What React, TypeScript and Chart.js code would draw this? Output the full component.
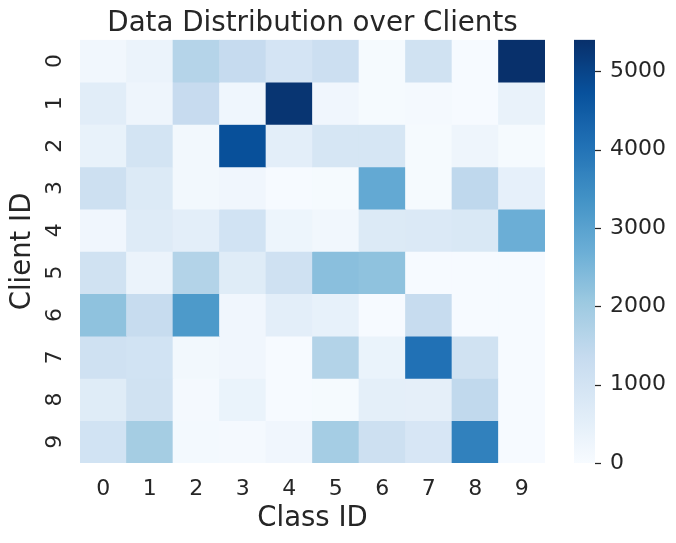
import { useEffect, useRef } from "react";
import { Chart, registerables } from "chart.js";

Chart.register(...registerables);

const classes = ["0", "1", "2", "3", "4", "5", "6", "7", "8", "9"];
const clients = ["0", "1", "2", "3", "4", "5", "6", "7", "8", "9"];

const client0 = [150, 320, 1640, 1350, 960, 1180, 60, 1070, 30, 5400];
const client1 = [590, 240, 1330, 210, 5300, 190, 60, 80, 30, 380];
const client2 = [400, 980, 130, 4750, 540, 900, 900, 60, 240, 60];
const client3 = [1150, 730, 130, 200, 40, 60, 2830, 60, 1470, 460];
const client4 = [200, 680, 540, 1030, 270, 160, 730, 760, 810, 2700];
const client5 = [1070, 320, 1670, 650, 1100, 2290, 2220, 40, 40, 40];
const client6 = [2220, 1310, 3190, 200, 540, 430, 30, 1310, 30, 30];
const client7 = [1100, 1030, 130, 200, 40, 1670, 350, 4050, 1070, 40];
const client8 = [650, 1070, 80, 350, 30, 60, 520, 490, 1440, 40];
const client9 = [1030, 1910, 100, 80, 190, 1900, 1150, 870, 3720, 40];

const counts = [client0, client1, client2, client3, client4, client5, client6, client7, client8, client9];

const colorbarTicks = [0, 1000, 2000, 3000, 4000, 5000];

const BLUES: number[][] = [
  [247, 251, 255],
  [222, 235, 247],
  [198, 219, 239],
  [158, 202, 225],
  [107, 174, 214],
  [66, 146, 198],
  [33, 113, 181],
  [8, 81, 156],
  [8, 48, 107],
];

function blues(t: number): string {
  const tt = Math.max(0, Math.min(1, t));
  const pos = tt * (BLUES.length - 1);
  const i = Math.min(BLUES.length - 2, Math.floor(pos));
  const f = pos - i;
  const a = BLUES[i];
  const b = BLUES[i + 1];
  const c = a.map((v, k) => Math.round(v + (b[k] - v) * f));
  return `rgb(${c[0]},${c[1]},${c[2]})`;
}

const FONT = "'DejaVu Sans', sans-serif";
const TEXT = "#262626";

export default function App() {
  const ref = useRef<HTMLCanvasElement | null>(null);

  useEffect(() => {
    if (!ref.current) return;
    const vmax = Math.max(...counts.flat());

    const colorbarPlugin = {
      id: "colorbar",
      afterDraw(chart: any) {
        const s = chart.scales.cb;
        const ctx = chart.ctx as CanvasRenderingContext2D;
        const x0 = s.left + 29;
        const w = 21;
        const top = s.getPixelForValue(vmax);
        const bottom = s.getPixelForValue(0);
        const g = ctx.createLinearGradient(0, bottom, 0, top);
        for (let k = 0; k <= 64; k++) {
          const t = k / 64;
          g.addColorStop(t, blues(t));
        }
        ctx.save();
        ctx.fillStyle = g;
        ctx.fillRect(x0, top, w, bottom - top);
        ctx.strokeStyle = TEXT;
        ctx.lineWidth = 1.25;
        s.ticks.forEach((tk: any) => {
          const y = Math.round(s.getPixelForValue(tk.value)) + 0.5;
          ctx.beginPath();
          ctx.moveTo(x0 + w, y);
          ctx.lineTo(x0 + w + 6, y);
          ctx.stroke();
        });
        ctx.restore();
      },
    };

    const chart = new Chart(ref.current, {
      type: "bar",
      data: {
        labels: classes,
        datasets: clients.map((c, i) => ({
          label: c,
          data: classes.map(() => [i, i + 1]) as any,
          backgroundColor: counts[i].map((v) => blues(v / vmax)),
          borderWidth: 0,
          barPercentage: 1,
          categoryPercentage: 1,
          grouped: false,
          yAxisID: "y",
        })),
      },
      options: {
        animation: false,
        responsive: true,
        maintainAspectRatio: false,
        layout: { padding: 0 },
        plugins: {
          legend: { display: false },
          tooltip: { enabled: false },
          title: {
            display: true,
            text: "Data Distribution over Clients",
            color: TEXT,
            fullSize: false,
            font: { family: FONT, size: 27.7, weight: "normal", lineHeight: 1.15 },
            padding: { top: 0, bottom: 0 },
          },
        },
        scales: {
          x: {
            type: "category",
            offset: true,
            grid: { display: true, drawOnChartArea: false, drawTicks: true, tickLength: 13, color: "transparent" },
            border: { display: false },
            ticks: { color: TEXT, font: { family: FONT, size: 22 }, padding: 0, maxRotation: 0, minRotation: 0 },
            title: {
              display: true,
              text: "Class ID",
              color: TEXT,
              font: { family: FONT, size: 27.5, lineHeight: 1 },
              padding: { top: 0, bottom: 2 },
            },
            afterFit: (s: any) => {
              s.height = 72;
            },
          },
          y: {
            type: "linear",
            min: 0,
            max: clients.length,
            reverse: true,
            grid: { display: true, drawOnChartArea: false, drawTicks: true, tickLength: 18, color: "transparent" },
            border: { display: false },
            afterBuildTicks: (s: any) => {
              s.ticks = clients.map((_, i) => ({ value: i + 0.5 }));
            },
            ticks: {
              color: TEXT,
              font: { family: FONT, size: 22 },
              padding: 0,
              minRotation: 90,
              maxRotation: 90,
              crossAlign: "center",
              callback: (_v: any, idx: number) => clients[idx],
            },
            title: {
              display: true,
              text: "Client ID",
              color: TEXT,
              font: { family: FONT, size: 27.5, lineHeight: 1 },
              padding: { top: 1, bottom: 0 },
            },
            afterFit: (s: any) => {
              s.width = 72;
            },
          },
          cb: {
            type: "linear",
            position: "right",
            min: 0,
            max: vmax,
            grid: { display: true, drawOnChartArea: false, drawTicks: true, tickLength: 60, color: "transparent" },
            border: { display: false },
            afterBuildTicks: (s: any) => {
              s.ticks = colorbarTicks.map((v) => ({ value: v }));
            },
            ticks: {
              color: TEXT,
              font: { family: FONT, size: 22 },
              padding: 5,
              callback: (v: any) => String(v),
            },
            afterFit: (s: any) => {
              s.width = 123;
            },
          },
        },
      } as any,
      plugins: [colorbarPlugin],
    });

    return () => chart.destroy();
  }, []);

  return (
    <div style={{ position: "relative", width: 660, height: 527 }}>
      <canvas ref={ref} />
    </div>
  );
}
